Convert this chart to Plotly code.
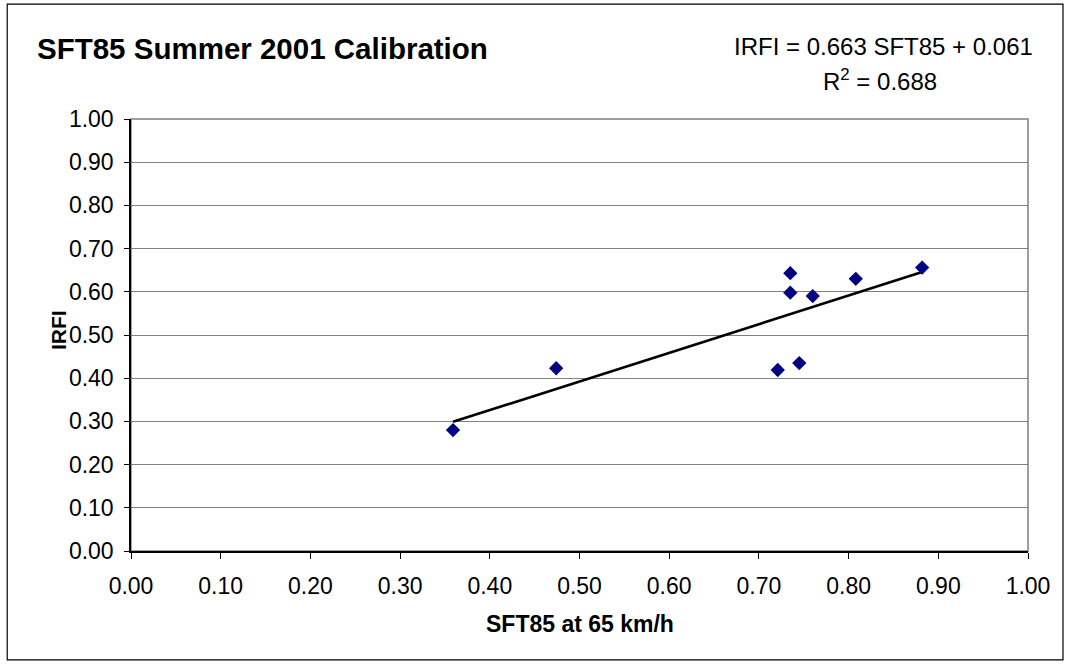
import plotly.graph_objects as go

# Data
sft85 = [0.359, 0.474, 0.721, 0.735, 0.735, 0.745, 0.760, 0.808, 0.882]
irfi = [0.280, 0.423, 0.419, 0.643, 0.598, 0.435, 0.590, 0.630, 0.656]
slope = 0.663
intercept = 0.061
r2 = 0.688
tick_vals = [i / 10 for i in range(11)]
tick_text = ["%.2f" % v for v in tick_vals]

trend_x = [min(sft85), max(sft85)]
trend_y = [slope * v + intercept for v in trend_x]

FONT = "Liberation Sans, Arial, sans-serif"

fig = go.Figure()
fig.add_trace(go.Scatter(x=trend_x, y=trend_y, mode="lines",
                         line=dict(color="black", width=2.6), hoverinfo="skip"))
fig.add_trace(go.Scatter(x=sft85, y=irfi, mode="markers",
                         marker=dict(symbol="diamond", size=11, color="#000080",
                                     line=dict(width=0))))

fig.update_layout(
    width=1073, height=665,
    margin=dict(l=131, r=45, t=119, b=114),
    paper_bgcolor="white", plot_bgcolor="white",
    showlegend=False,
    font=dict(family=FONT, color="black", size=23),
    xaxis=dict(range=[0, 1], tickvals=tick_vals, ticktext=tick_text,
               showgrid=False, zeroline=False, showline=True, linecolor="black",
               linewidth=1.5, ticks="outside", ticklen=6, tickcolor="black",
               ticklabelstandoff=8,
               tickfont=dict(size=23), fixedrange=True),
    yaxis=dict(range=[0, 1], tickvals=tick_vals, ticktext=tick_text,
               showgrid=True, gridcolor="#808080", gridwidth=1.3, zeroline=False,
               showline=True, linecolor="black", linewidth=1.5,
               ticks="outside", ticklen=5, tickcolor="black",
               ticklabelstandoff=6,
               tickfont=dict(size=23), fixedrange=True),
    shapes=[
        dict(type="rect", xref="paper", yref="paper", x0=0, x1=1, y0=0, y1=1,
             line=dict(color="#808080", width=1.5), layer="below"),
        dict(type="rect", xref="paper", yref="paper", x0=-0.138, x1=1.039,
             y0=-0.252, y1=1.266, line=dict(color="black", width=1.2)),
    ],
    annotations=[
        dict(text="<b>SFT85 Summer 2001 Calibration</b>", xref="paper", yref="paper",
             x=-0.107, y=1.164, xanchor="left", yanchor="middle",
             showarrow=False, font=dict(size=29.5)),
        dict(text="IRFI = %.3f SFT85 + %.3f" % (slope, intercept), xref="paper", yref="paper",
             x=0.839, y=1.167, xanchor="center", yanchor="middle",
             showarrow=False, font=dict(size=24)),
        dict(text="R<sup>2</sup> = %.3f" % r2, xref="paper", yref="paper",
             x=0.835, y=1.090, xanchor="center", yanchor="middle",
             showarrow=False, font=dict(size=24)),
        dict(text="<b>SFT85 at 65 km/h</b>", xref="paper", yref="paper",
             x=0.5, y=-0.170, xanchor="center", yanchor="middle",
             showarrow=False, font=dict(size=23)),
        dict(text="<b>IRFI</b>", xref="paper", yref="paper",
             x=-0.080, y=0.512, xanchor="center", yanchor="middle",
             textangle=-90, showarrow=False, font=dict(size=21)),
    ],
)

fig.write_html("out.html", config={"displayModeBar": False},
               post_script="document.body.style.margin='0';")
